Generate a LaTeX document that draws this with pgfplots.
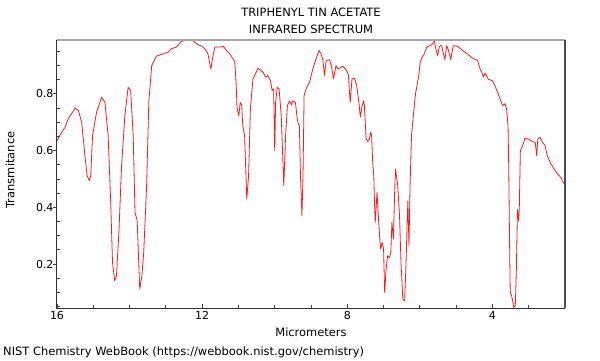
\documentclass[border=0pt]{standalone}
\usepackage{fontspec}
\setmainfont{DejaVu Sans}
\usepackage{pgfplots}
\pgfplotsset{compat=1.18}
\begin{document}
\begin{tikzpicture}[x=1bp,y=1bp]
\useasboundingbox (-57,-52) rectangle (543,308);
\begin{axis}[
  at={(0,0)}, anchor=south west,
  scale only axis, width=508bp, height=268bp,
  x dir=reverse, xmin=2, xmax=16, ymin=0.045, ymax=0.99,
  xtick={4,8,12,16}, xticklabels={4,8,12,16},
  minor xtick={3,5,6,7,9,10,11,13,14,15},
  ytick={0.2,0.4,0.6,0.8}, yticklabels={0.2,0.4,0.6,0.8},
  minor ytick={0.05,0.1,0.15,0.25,0.3,0.35,0.45,0.5,0.55,0.65,0.7,0.75,0.85,0.9,0.95},
  xtick pos=bottom, ytick pos=left,
  tick align=inside,
  major tick length=4bp, minor tick length=3bp,
  every tick/.style={black!75, line width=0.8bp},
  every major y tick/.append style={xshift=-3.5bp},
  axis line style={draw=none},
  clip=false,
  ticklabel style={font=\fontsize{11}{13}\selectfont},
  /pgf/number format/assume math mode=true,
  title={TRIPHENYL TIN ACETATE\\INFRARED SPECTRUM},
  title style={align=center, font=\fontsize{11.5}{17}\selectfont, at={(axis description cs:0.5,1)}, anchor=center, yshift=13bp},
  xlabel={Micrometers},
  xlabel style={font=\fontsize{11.5}{13}\selectfont, at={(axis description cs:0.5,0)}, anchor=center, yshift=-24bp},
  ylabel={Transmitance},
  ylabel style={font=\fontsize{11.5}{13}\selectfont, at={(axis description cs:-0.0925,0.515)}, anchor=center},
]
\addplot[red!90!white, line width=0.8bp, line join=round] coordinates {
(16.00,0.635) (15.87,0.665) (15.78,0.682) (15.69,0.712) (15.60,0.730) (15.50,0.750)
(15.41,0.741) (15.32,0.700) (15.23,0.582) (15.17,0.512) (15.11,0.494) (15.07,0.512)
(15.02,0.653) (14.91,0.735) (14.77,0.788) (14.68,0.770) (14.59,0.653) (14.52,0.417)
(14.47,0.206) (14.41,0.141) (14.36,0.159) (14.29,0.323) (14.22,0.547) (14.13,0.723)
(14.04,0.823) (13.97,0.812) (13.90,0.653) (13.85,0.382) (13.79,0.353) (13.72,0.112)
(13.66,0.159) (13.61,0.241) (13.53,0.476) (13.47,0.770) (13.39,0.900) (13.26,0.933)
(13.08,0.941) (12.94,0.947) (12.85,0.959) (12.71,0.965) (12.57,0.985) (12.43,0.990)
(12.25,0.987) (12.11,0.973) (12.00,0.968) (11.93,0.959) (11.84,0.941) (11.76,0.888)
(11.70,0.935) (11.65,0.965) (11.52,0.965) (11.41,0.967) (11.33,0.953) (11.24,0.941)
(11.15,0.924) (11.10,0.912) (11.06,0.829) (11.04,0.753) (10.99,0.723) (10.95,0.770)
(10.91,0.759) (10.88,0.688) (10.83,0.653) (10.77,0.429) (10.72,0.512) (10.67,0.747)
(10.60,0.853) (10.46,0.890) (10.32,0.876) (10.25,0.859) (10.19,0.865) (10.12,0.847)
(10.07,0.812) (10.03,0.818) (10.00,0.600) (9.975,0.770) (9.93,0.823) (9.88,0.818)
(9.82,0.723) (9.75,0.476) (9.70,0.653) (9.65,0.759) (9.59,0.776) (9.54,0.761)
(9.50,0.776) (9.43,0.770) (9.38,0.712) (9.35,0.694) (9.32,0.688) (9.29,0.512)
(9.25,0.370) (9.22,0.512) (9.19,0.794) (9.13,0.820) (9.04,0.841) (8.95,0.888)
(8.86,0.924) (8.78,0.953) (8.72,0.941) (8.67,0.918) (8.63,0.865) (8.58,0.918)
(8.49,0.920) (8.44,0.900) (8.38,0.853) (8.31,0.900) (8.26,0.888) (8.21,0.891)
(8.13,0.898) (8.03,0.885) (7.97,0.868) (7.92,0.770) (7.87,0.853) (7.80,0.855)
(7.74,0.829) (7.68,0.770) (7.64,0.718) (7.60,0.753) (7.55,0.776) (7.53,0.759)
(7.48,0.641) (7.44,0.632) (7.39,0.641) (7.36,0.665) (7.33,0.653) (7.30,0.559)
(7.27,0.512) (7.25,0.417) (7.23,0.347) (7.18,0.453) (7.15,0.382) (7.11,0.300)
(7.08,0.253) (7.04,0.276) (7.00,0.253) (6.97,0.100) (6.93,0.182) (6.89,0.229)
(6.84,0.223) (6.80,0.241) (6.77,0.347) (6.73,0.288) (6.69,0.476) (6.67,0.535)
(6.61,0.476) (6.56,0.370) (6.52,0.206) (6.47,0.076) (6.42,0.070) (6.38,0.206)
(6.35,0.347) (6.33,0.423) (6.30,0.265) (6.27,0.476) (6.23,0.653) (6.18,0.723)
(6.12,0.800) (6.08,0.829) (6.03,0.865) (5.99,0.912) (5.94,0.929) (5.88,0.941)
(5.81,0.965) (5.72,0.971) (5.65,0.976) (5.60,0.988) (5.56,0.959) (5.51,0.935)
(5.46,0.968) (5.40,0.971) (5.35,0.941) (5.31,0.921) (5.26,0.970) (5.21,0.953)
(5.15,0.921) (5.08,0.970) (4.96,0.968) (4.82,0.953) (4.69,0.941) (4.55,0.926)
(4.41,0.918) (4.34,0.888) (4.29,0.876) (4.25,0.859) (4.20,0.873) (4.11,0.851)
(4.00,0.847) (3.93,0.829) (3.86,0.806) (3.79,0.782) (3.72,0.759) (3.65,0.765)
(3.61,0.747) (3.57,0.688) (3.55,0.535) (3.53,0.300) (3.51,0.100) (3.47,0.088)
(3.41,0.047) (3.37,0.053) (3.34,0.182) (3.31,0.394) (3.28,0.353) (3.26,0.394)
(3.23,0.600) (3.17,0.618) (3.10,0.643) (3.01,0.641) (2.90,0.632) (2.82,0.629)
(2.78,0.582) (2.75,0.641) (2.69,0.647) (2.62,0.629) (2.55,0.618) (2.49,0.582)
(2.39,0.553) (2.30,0.535) (2.21,0.518) (2.12,0.506) (2.02,0.482) (2.00,0.478)
};
\draw[black!35, line width=1.6bp] (rel axis cs:0,1) -- (rel axis cs:1,1);
\draw[black!70, line width=1.6bp] (rel axis cs:1,1) -- (rel axis cs:1,0);
\draw[black!80, line width=1bp] (rel axis cs:0,1) -- (rel axis cs:0,0) -- (rel axis cs:1,0);
\end{axis}
\node[anchor=west, inner sep=0pt, font=\fontsize{11.5}{13}\selectfont] at (-54,-44) {NIST Chemistry WebBook (https://webbook.nist.gov/chemistry)};
\end{tikzpicture}
\end{document}
